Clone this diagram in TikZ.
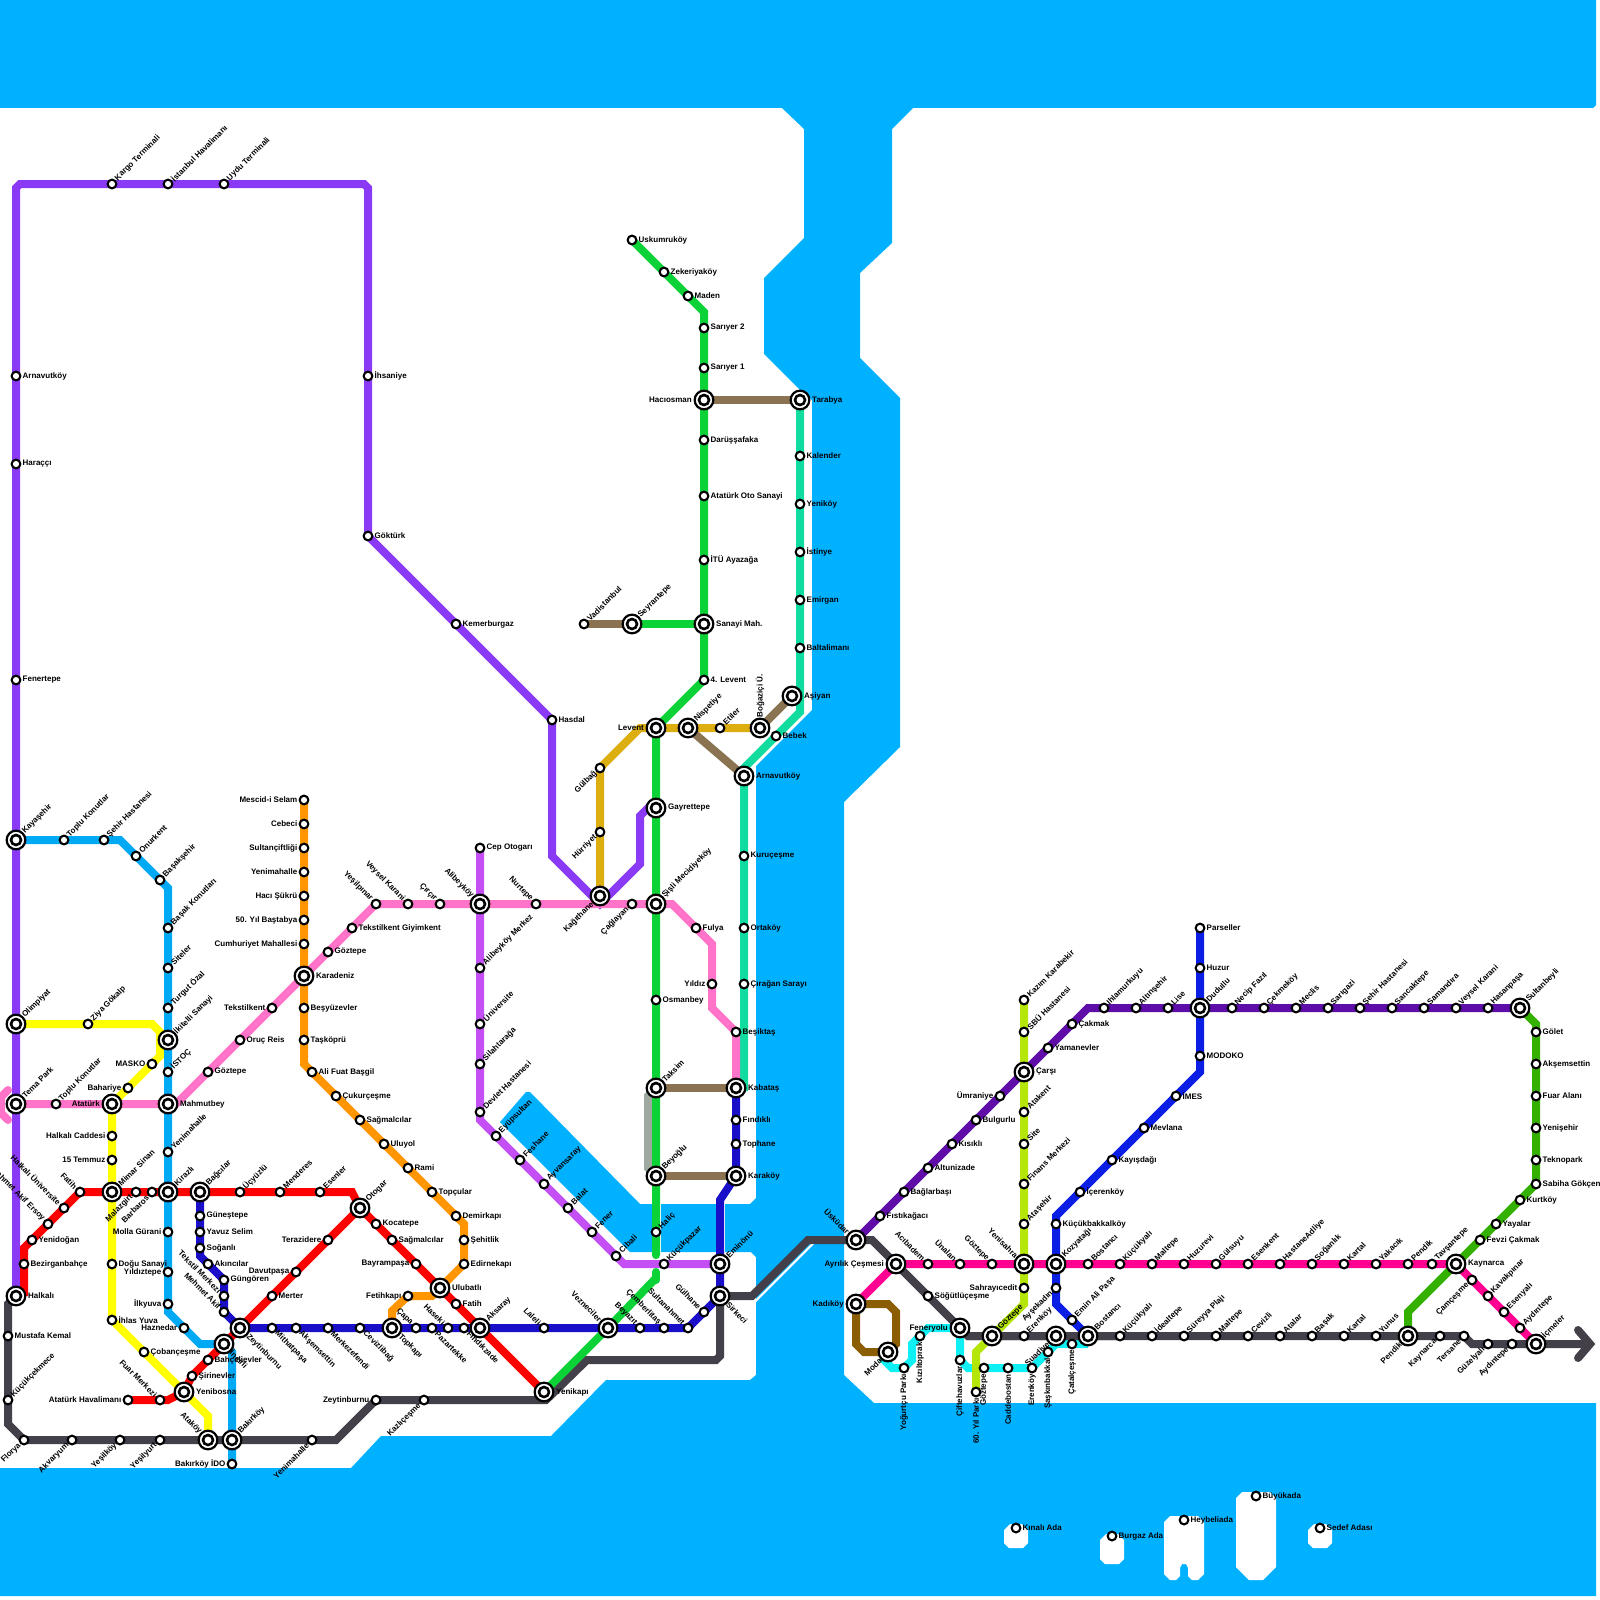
\documentclass[tikz,border=0pt]{standalone}
\usepackage{fontspec}
\setmainfont{Liberation Sans}
\pgfdeclarelayer{water}
\pgfdeclarelayer{lines}
\pgfsetlayers{water,lines,main}
\definecolor{cWater}{HTML}{00B1FF}
\definecolor{cRed}{HTML}{FF0000}
\definecolor{cYellow}{HTML}{FFFF00}
\definecolor{cPink}{HTML}{FF73C8}
\definecolor{cPurple}{HTML}{8A3AF5}
\definecolor{cSky}{HTML}{00A9F4}
\definecolor{cNavy}{HTML}{1A0FC8}
\definecolor{cOrange}{HTML}{FF9500}
\definecolor{cLilac}{HTML}{C450F5}
\definecolor{cGold}{HTML}{DCAE10}
\definecolor{cGreen}{HTML}{0BD236}
\definecolor{cTeal}{HTML}{10DCA0}
\definecolor{cTaupe}{HTML}{8A7350}
\definecolor{cAsh}{HTML}{A0A9A0}
\definecolor{cMarmaray}{HTML}{434049}
\definecolor{cViolet}{HTML}{5F0DA8}
\definecolor{cMagenta}{HTML}{FF0090}
\definecolor{cLime}{HTML}{B4E60A}
\definecolor{cBlue}{HTML}{0A1EE6}
\definecolor{cLeaf}{HTML}{33B000}
\definecolor{cBrown}{HTML}{8B5E05}
\definecolor{cCyan}{HTML}{0FF0F5}
\tikzset{
  stn/.style={circle,draw=black,fill=white,line width=2.1pt,minimum size=8.7pt,inner sep=0pt},
  hubo/.style={circle,draw=black,fill=white,line width=2.2pt,minimum size=18.7pt,inner sep=0pt},
  hubi/.style={circle,draw=black,fill=white,line width=2.6pt,minimum size=10pt,inner sep=0pt},
  lbl/.style={inner sep=0pt,text=black,font=\fontsize{8}{9}\selectfont\bfseries},
  lE/.style={anchor=west,xshift=\lsh pt,yshift=0pt},
  lW/.style={anchor=east,xshift=-\lsh pt,yshift=0pt},
  lNE/.style={rotate=45,anchor=west,xshift=\dsh pt},
  lSW/.style={rotate=45,anchor=east,xshift=-\dsh pt},
  lNW/.style={rotate=-45,anchor=east,xshift=-\dsh pt},
  lSE/.style={rotate=-45,anchor=west,xshift=\dsh pt},
  lS/.style={rotate=90,anchor=east,xshift=-\dsh pt},
  lN/.style={rotate=90,anchor=west,xshift=\dsh pt},
  ln/.style={line width=8pt,line join=miter,miter limit=4},
}
\newcommand\st[5]{\node[stn] (#1) at (#2,#3) {};\def\lsh{6.5}\def\dsh{6}\node[lbl,#4] (#1-t) at (#1) {#5};}
\newcommand\hb[5]{\node[hubo] (#1) at (#2,#3) {};\node[hubi] (#1-i) at (#1) {};\def\lsh{12}\def\dsh{10.5}\node[lbl,#4] (#1-t) at (#1) {#5};}
\begin{document}
\begin{tikzpicture}[x=1pt,y=-1pt]
\useasboundingbox (0,0) rectangle (1600,1600);
% ---------- water and islands
\begin{pgfonlayer}{water}
\fill[cWater] (0,0) -- (1596,0) -- (1596,105) -- (1593,108) -- (913,108) -- (892,129) -- (892,243) -- (860,273) -- (860,358) -- (900,398) -- (900,747) -- (844,802) -- (844,1375) -- (874,1403) -- (1596,1403) -- (1596,1596) -- (0,1596) -- (0,1468) -- (351,1468) -- (381,1436) -- (551,1436) -- (606,1380) -- (750,1380) -- (756,1375) -- (756,1257) -- (751,1252) -- (630,1252) -- (500,1122) -- (526,1092) -- (530,1092) -- (640,1204) -- (750,1204) -- (756,1198) -- (756,766) -- (812,710) -- (812,400) -- (800,390) -- (764,354) -- (764,278) -- (804,238) -- (804,129) -- (782,108) -- (0,108) -- cycle;
\fill[white] (651.5,1204) rectangle (661,1252);
\fill[white] (715.5,1204) rectangle (725,1252);
\fill[white] (755,1300) -- (811,1244) -- (814,1244) -- (756,1302) -- cycle;
\fill[white] (1004,1530) -- (1010,1524) -- (1022,1524) -- (1028,1530) -- (1028,1543) -- (1023,1548) -- (1009,1548) -- (1004,1543) -- cycle;
\fill[white] (1308,1530) -- (1314,1524) -- (1326,1524) -- (1332,1530) -- (1332,1543) -- (1327,1548) -- (1313,1548) -- (1308,1543) -- cycle;
\fill[white] (1100,1540) -- (1106,1534) -- (1118,1534) -- (1124,1540) -- (1124,1559) -- (1119,1564) -- (1105,1564) -- (1100,1559) -- cycle;
\fill[white] (1164,1522) -- (1170,1516) -- (1198,1516) -- (1204,1522) -- (1204,1574) -- (1198,1580) -- (1192,1580) -- (1188,1576) -- (1188,1568) -- (1186,1564) -- (1182,1564) -- (1180,1568) -- (1180,1576) -- (1176,1580) -- (1170,1580) -- (1164,1574) -- cycle;
\fill[white] (1236,1498) -- (1242,1492) -- (1270,1492) -- (1276,1498) -- (1276,1567) -- (1263,1580) -- (1249,1580) -- (1236,1567) -- cycle;
\end{pgfonlayer}
% ---------- stations: purple
\st{kargo}{112}{184}{lNE}{Kargo Terminali}
\st{ihava}{168}{184}{lNE}{İstanbul Havalimanı}
\st{uydu}{224}{184}{lNE}{Uydu Terminali}
\st{arnk}{16}{376}{lE}{Arnavutköy}
\st{harac}{16}{464}{lE}{Haraççı}
\st{fener}{16}{680}{lE}{Fenertepe}
\hb{kaya}{16}{840}{lNE}{Kayaşehir}
\hb{olimp}{16}{1024}{lNE}{Olimpiyat}
\hb{tema}{16}{1104}{lNE}{Tema Park}
\hb{halkali}{16}{1296}{lE}{Halkalı}
\st{ihsan}{368}{376}{lE}{İhsaniye}
\st{gokturk}{368}{536}{lE}{Göktürk}
\st{kemer}{456}{624}{lE}{Kemerburgaz}
\st{hasdal}{552}{720}{lE}{Hasdal}
% sky
\st{toplua}{64}{840}{lNE}{Toplu Konutlar}
\st{sehir}{104}{840}{lNE}{Şehir Hastanesi}
\st{onur}{136}{856}{lNE}{Onurkent}
\st{basak}{160}{880}{lNE}{Başakşehir}
\st{basakk}{168}{928}{lNE}{Başak Konutları}
\st{siteler}{168}{968}{lNE}{Siteler}
\st{turgut}{168}{1008}{lNE}{Turgut Özal}
\hb{ikitelli}{168}{1040}{lNE}{İkitelli Sanayi}
\st{istoc}{168}{1072}{lNE}{İSTOÇ}
\hb{mahmut}{168}{1104}{lE}{Mahmutbey}
\st{yenim}{168}{1152}{lNE}{Yenimahalle}
\hb{kirazli}{168}{1192}{lNE}{Kirazlı}
\st{molla}{168}{1232}{lW}{Molla Gürani}
\st{yildizt}{168}{1272}{lW}{Yıldıztepe}
\st{ilkyuva}{168}{1304}{lW}{İlkyuva}
\st{hazne}{184}{1328}{lW}{Haznedar}
\hb{incirli}{224}{1344}{lSE}{İncirli}
\hb{bakirkoy}{232}{1440}{lNE}{Bakırköy}
\st{ido}{232}{1464}{lW}{Bakırköy İDO}
% yellow
\st{ziya}{88}{1024}{lNE}{Ziya Gökalp}
\st{masko}{152}{1064}{lW}{MASKO}
\st{bahar}{128}{1088}{lW}{Bahariye}
\hb{ataturk}{112}{1104}{lW}{Atatürk}
\st{halkcad}{112}{1136}{lW}{Halkalı Caddesi}
\st{temmuz}{112}{1160}{lW}{15 Temmuz}
\hb{mimar}{112}{1192}{lNE}{Mimar Sinan}
\st{dogu}{112}{1264}{lE}{Doğu Sanayi}
\st{ihlas}{112}{1320}{lE}{İhlas Yuva}
\st{coban}{144}{1352}{lE}{Çobançeşme}
\hb{yenibosna}{184}{1392}{lE}{Yenibosna}
\hb{atakoy}{208}{1440}{lNW}{Ataköy}
% red
\st{fatiha}{80}{1192}{lNW}{Fatih}
\st{halkun}{64}{1208}{lNW}{Halkalı Üniversite}
\st{makif}{48}{1224}{lNW}{Mehmet Akif Ersoy}
\st{yenid}{32}{1240}{lE}{Yenidoğan}
\st{bezir}{24}{1264}{lE}{Bezirganbahçe}
\st{malaz}{136}{1192}{lSW}{Malazgirt}
\st{barbar}{152}{1192}{lSW}{Barbaros}
\hb{bagcilar}{200}{1192}{lNE}{Bağcılar}
\st{ucyuz}{240}{1192}{lNE}{Üçyüzlü}
\st{mender}{280}{1192}{lNE}{Menderes}
\st{esenler}{320}{1192}{lNE}{Esenler}
\hb{otogar}{360}{1208}{lNE}{Otogar}
\st{kocat}{376}{1224}{lE}{Kocatepe}
\st{sagma}{392}{1240}{lE}{Sağmalcılar}
\st{bayram}{416}{1264}{lW}{Bayrampaşa}
\hb{ulubatli}{440}{1288}{lE}{Ulubatlı}
\st{fatihb}{456}{1304}{lE}{Fatih}
\hb{aksaray}{480}{1328}{lNE}{Aksaray}
\hb{yenikapi}{544}{1392}{lE}{Yenikapı}
\st{terazi}{328}{1240}{lW}{Terazidere}
\st{davut}{296}{1272}{lW}{Davutpaşa}
\st{merter}{272}{1296}{lE}{Merter}
\hb{zeytin}{240}{1328}{lSE}{Zeytinburnu}
\st{bahce}{208}{1360}{lE}{Bahçelievler}
\st{sirin}{192}{1376}{lE}{Şirinevler}
\st{fuar}{160}{1400}{lNW}{Fuar Merkezi}
\st{athava}{128}{1400}{lW}{Atatürk Havalimanı}
% navy
\st{gunes}{200}{1216}{lE}{Güneştepe}
\st{yavuz}{200}{1232}{lE}{Yavuz Selim}
\st{sogan}{200}{1248}{lE}{Soğanlı}
\st{akinci}{208}{1264}{lE}{Akıncılar}
\st{gungor}{224}{1280}{lE}{Güngören}
\st{tekmer}{224}{1296}{lNW}{Tekstil Merkezi}
\st{mehak}{224}{1312}{lNW}{Mehmet Akif}
\st{mithat}{272}{1328}{lSE}{Mithatpaşa}
\st{aksem}{296}{1328}{lSE}{Akşemsettin}
\st{merkez}{328}{1328}{lSE}{Merkezefendi}
\st{ceviz}{360}{1328}{lSE}{Cevizlibağ}
\hb{topkapi}{392}{1328}{lSE}{Topkapı}
\st{capa}{416}{1328}{lNW}{Çapa}
\st{pazar}{432}{1328}{lSE}{Pazartekke}
\st{haseki}{448}{1328}{lNW}{Haseki}
\st{findik}{464}{1328}{lSE}{Fındıkzade}
\st{laleli}{544}{1328}{lNW}{Laleli}
\hb{vezne}{608}{1328}{lNW}{Vezneciler}
\st{beyazit}{640}{1328}{lNW}{Beyazıt}
\st{cember}{664}{1328}{lNW}{Çemberlitaş}
\st{sultana}{688}{1328}{lNW}{Sultanahmet}
\st{gulhane}{704}{1312}{lNW}{Gülhane}
\hb{sirkeci}{720}{1296}{lSE}{Sirkeci}
\hb{eminonu}{720}{1264}{lNE}{Eminönü}
\hb{karakoy}{736}{1176}{lE}{Karaköy}
\st{tophane}{736}{1144}{lE}{Tophane}
\st{findikli}{736}{1120}{lE}{Fındıklı}
\hb{kabatas}{736}{1088}{lE}{Kabataş}
% orange
\st{mescid}{304}{800}{lW}{Mescid-i Selam}
\st{cebeci}{304}{824}{lW}{Cebeci}
\st{sultanc}{304}{848}{lW}{Sultançiftliği}
\st{yenimb}{304}{872}{lW}{Yenimahalle}
\st{haci}{304}{896}{lW}{Hacı Şükrü}
\st{elli}{304}{920}{lW}{50. Yıl Baştabya}
\st{cumh}{304}{944}{lW}{Cumhuriyet Mahallesi}
\hb{karadeniz}{304}{976}{lE}{Karadeniz}
\st{besyuz}{304}{1008}{lE}{Beşyüzevler}
\st{taskop}{304}{1040}{lE}{Taşköprü}
\st{alifuat}{312}{1072}{lE}{Ali Fuat Başgil}
\st{cukur}{336}{1096}{lE}{Çukurçeşme}
\st{sagmb}{360}{1120}{lE}{Sağmalcılar}
\st{uluyol}{384}{1144}{lE}{Uluyol}
\st{rami}{408}{1168}{lE}{Rami}
\st{topcu}{432}{1192}{lE}{Topçular}
\st{demir}{456}{1216}{lE}{Demirkapı}
\st{sehit}{464}{1240}{lE}{Şehitlik}
\st{edirne}{464}{1264}{lE}{Edirnekapı}
\st{fetih}{408}{1296}{lW}{Fetihkapı}
% pink
\st{toplub}{56}{1104}{lNE}{Toplu Konutlar}
\st{gozta}{208}{1072}{lE}{Göztepe}
\st{oruc}{240}{1040}{lE}{Oruç Reis}
\st{tekst}{272}{1008}{lW}{Tekstilkent}
\st{goztb}{328}{952}{lE}{Göztepe}
\st{giyim}{352}{928}{lE}{Tekstilkent Giyimkent}
\st{yesilp}{376}{904}{lNW}{Yeşilpınar}
\st{veysa}{408}{904}{lNW}{Veysel Karani}
\st{circir}{440}{904}{lNW}{Çırçır}
\hb{alibey}{480}{904}{lNW}{Alibeyköy}
\st{nurtepe}{536}{904}{lNW}{Nurtepe}
\hb{kagit}{600}{896}{lSW}{Kağıthane}
\st{cagla}{632}{904}{lSW}{Çağlayan}
\hb{sisli}{656}{904}{lNE}{Şişli Mecidiyeköy}
\st{fulya}{696}{928}{lE}{Fulya}
\st{yildiz}{712}{984}{lW}{Yıldız}
\st{besik}{736}{1032}{lE}{Beşiktaş}
% lilac
\st{cepoto}{480}{848}{lE}{Cep Otogarı}
\st{alimer}{480}{968}{lNE}{Alibeyköy Merkez}
\st{univ}{480}{1024}{lNE}{Üniversite}
\st{silah}{480}{1064}{lNE}{Silahtarağa}
\st{devlet}{480}{1112}{lNE}{Devlet Hastanesi}
\st{eyup}{496}{1136}{lNE}{Eyüpsultan}
\st{feshane}{520}{1160}{lNE}{Feshane}
\st{ayvan}{544}{1184}{lNE}{Ayvansaray}
\st{balat}{568}{1208}{lNE}{Balat}
\st{fenerh}{592}{1232}{lNE}{Fener}
\st{cibali}{616}{1256}{lNE}{Cibali}
\st{kucukp}{664}{1264}{lNE}{Küçükpazar}
% green
\st{uskum}{632}{240}{lE}{Uskumruköy}
\st{zekeri}{664}{272}{lE}{Zekeriyaköy}
\st{maden}{688}{296}{lE}{Maden}
\st{sariya}{704}{328}{lE}{Sarıyer 2}
\st{sariyb}{704}{368}{lE}{Sarıyer 1}
\hb{hacios}{704}{400}{lW}{Hacıosman}
\st{darus}{704}{440}{lE}{Darüşşafaka}
\st{atoto}{704}{496}{lE}{Atatürk Oto Sanayi}
\st{itu}{704}{560}{lE}{İTÜ Ayazağa}
\hb{sanayi}{704}{624}{lE}{Sanayi Mah.}
\st{lev4}{704}{680}{lE}{4. Levent}
\hb{levent}{656}{728}{lW}{Levent}
\hb{gayret}{656}{808}{lE}{Gayrettepe}
\st{osman}{656}{1000}{lE}{Osmanbey}
\hb{taksim}{656}{1088}{lNE}{Taksim}
\hb{beyoglu}{656}{1176}{lNE}{Beyoğlu}
\st{halic}{656}{1232}{lNE}{Haliç}
\hb{seyran}{632}{624}{lNE}{Seyrantepe}
\st{vadi}{584}{624}{lNE}{Vadistanbul}
% gold, teal
\st{gulbag}{600}{768}{lSW}{Gülbağ}
\st{hurriy}{600}{832}{lSW}{Hürriyet}
\hb{nispet}{688}{728}{lNE}{Nispetiye}
\st{etiler}{720}{728}{lNE}{Etiler}
\hb{bogazi}{760}{728}{lN}{Boğaziçi Ü.}
\hb{asiyan}{792}{696}{lE}{Aşiyan}
\st{bebek}{776}{736}{lE}{Bebek}
\hb{arnav}{744}{776}{lE}{Arnavutköy}
\hb{tarabya}{800}{400}{lE}{Tarabya}
\st{kalender}{800}{456}{lE}{Kalender}
\st{yenikoy}{800}{504}{lE}{Yeniköy}
\st{istinye}{800}{552}{lE}{İstinye}
\st{emirgan}{800}{600}{lE}{Emirgan}
\st{baltal}{800}{648}{lE}{Baltalimanı}
\st{kuruc}{744}{856}{lE}{Kuruçeşme}
\st{ortak}{744}{928}{lE}{Ortaköy}
\st{ciragan}{744}{984}{lE}{Çırağan Sarayı}
% marmaray west
\st{mustafa}{8}{1336}{lE}{Mustafa Kemal}
\st{kcekm}{8}{1400}{lNE}{Küçükçekmece}
\st{florya}{24}{1440}{lSW}{Florya}
\st{akvar}{72}{1440}{lSW}{Akvaryum}
\st{yesilk}{120}{1440}{lSW}{Yeşilköy}
\st{yesily}{160}{1440}{lSW}{Yeşilyurt}
\st{yenimc}{312}{1440}{lSW}{Yenimahalle}
\st{zeytm}{376}{1400}{lW}{Zeytinburnu}
\st{kazli}{424}{1400}{lSW}{Kazlıçeşme}
% anatolia
\hb{uskudar}{856}{1240}{lNW}{Üsküdar}
\hb{ayrilik}{896}{1264}{lW}{Ayrılık Çeşmesi}
\hb{kadikoy}{856}{1304}{lW}{Kadıköy}
\hb{modah}{888}{1352}{lSW}{Moda}
\st{sogut}{928}{1296}{lE}{Söğütlüçeşme}
\hb{fenery}{960}{1328}{lW}{Feneryolu}
\st{kizil}{920}{1336}{lS}{Kızıltoprak}
\st{yogurt}{904}{1368}{lS}{Yoğurtçu Parkı}
\hb{goztm}{992}{1336}{lNE}{Göztepe}
\st{erena}{1024}{1336}{lNE}{Erenköy}
\hb{suadiye}{1056}{1336}{lSW}{Suadiye}
\hb{bostm}{1088}{1336}{lNE}{Bostancı}
\st{kucm}{1120}{1336}{lNE}{Küçükyalı}
\st{ideal}{1152}{1336}{lNE}{İdealtepe}
\st{sureyya}{1184}{1336}{lNE}{Süreyya Plajı}
\st{maltm}{1216}{1336}{lNE}{Maltepe}
\st{cevizli}{1248}{1336}{lNE}{Cevizli}
\st{atalar}{1280}{1336}{lNE}{Atalar}
\st{basakm}{1312}{1336}{lNE}{Başak}
\st{kartm}{1344}{1336}{lNE}{Kartal}
\st{yunus}{1376}{1336}{lNE}{Yunus}
\hb{pendm}{1408}{1336}{lSW}{Pendik}
\st{kaynm}{1440}{1336}{lSW}{Kaynarca}
\st{tersane}{1464}{1336}{lSW}{Tersane}
\st{guzel}{1488}{1344}{lSW}{Güzelyalı}
\st{aydm}{1512}{1344}{lSW}{Aydıntepe}
\hb{icmeler}{1536}{1344}{lNE}{İçmeler}
\st{cifte}{960}{1360}{lS}{Çiftehavuzlar}
\st{goztc}{984}{1368}{lS}{Göztepe}
\st{yilpark}{976}{1392}{lS}{60. Yıl Parkı}
\st{cadde}{1008}{1368}{lS}{Caddebostan}
\st{erenc}{1032}{1368}{lS}{Erenköy}
\st{saskin}{1048}{1352}{lS}{Şaşkınbakkal}
\st{catal}{1072}{1344}{lS}{Çatalçeşme}
\st{fistik}{880}{1216}{lE}{Fıstıkağacı}
\st{baglar}{904}{1192}{lE}{Bağlarbaşı}
\st{altuni}{928}{1168}{lE}{Altunizade}
\st{kisikli}{952}{1144}{lE}{Kısıklı}
\st{bulgur}{976}{1120}{lE}{Bulgurlu}
\st{umran}{1000}{1096}{lW}{Ümraniye}
\hb{carsi}{1024}{1072}{lE}{Çarşı}
\st{yamane}{1048}{1048}{lE}{Yamanevler}
\st{cakmak}{1072}{1024}{lE}{Çakmak}
\st{ihlam}{1104}{1008}{lNE}{Ihlamurkuyu}
\st{altins}{1136}{1008}{lNE}{Altınşehir}
\st{lise}{1168}{1008}{lNE}{Lise}
\hb{dudullu}{1200}{1008}{lNE}{Dudullu}
\st{necip}{1232}{1008}{lNE}{Necip Fazıl}
\st{cekme}{1264}{1008}{lNE}{Çekmeköy}
\st{meclis}{1296}{1008}{lNE}{Meclis}
\st{sarig}{1328}{1008}{lNE}{Sarıgazi}
\st{sehirb}{1360}{1008}{lNE}{Şehir Hastanesi}
\st{sancak}{1392}{1008}{lNE}{Sancaktepe}
\st{samand}{1424}{1008}{lNE}{Samandıra}
\st{veysb}{1456}{1008}{lNE}{Veysel Karani}
\st{hasanp}{1488}{1008}{lNE}{Hasanpaşa}
\hb{sultanb}{1520}{1008}{lNE}{Sultanbeyli}
\st{golet}{1536}{1032}{lE}{Gölet}
\st{aksemb}{1536}{1064}{lE}{Akşemsettin}
\st{fuaral}{1536}{1096}{lE}{Fuar Alanı}
\st{yenish}{1536}{1128}{lE}{Yenişehir}
\st{tekno}{1536}{1160}{lE}{Teknopark}
\st{sabiha}{1536}{1184}{lE}{Sabiha Gökçen}
\st{kurtkoy}{1520}{1200}{lE}{Kurtköy}
\st{yayalar}{1496}{1224}{lE}{Yayalar}
\st{fevzi}{1480}{1240}{lE}{Fevzi Çakmak}
\hb{kaynarca}{1456}{1264}{lE}{Kaynarca}
\st{parsel}{1200}{928}{lE}{Parseller}
\st{huzur}{1200}{968}{lE}{Huzur}
\st{modoko}{1200}{1056}{lE}{MODOKO}
\st{imes}{1176}{1096}{lE}{İMES}
\st{mevlana}{1144}{1128}{lE}{Mevlana}
\st{kayis}{1112}{1160}{lE}{Kayışdağı}
\st{iceren}{1080}{1192}{lE}{İçerenköy}
\st{kbakkal}{1056}{1224}{lE}{Küçükbakkalköy}
\hb{kozya}{1056}{1264}{lNE}{Kozyatağı}
\st{ayse}{1056}{1288}{lSW}{Ayşekadın}
\st{eminali}{1072}{1320}{lNE}{Emin Ali Paşa}
\st{kazim}{1024}{1000}{lNE}{Kazım Karabekir}
\st{sbu}{1024}{1032}{lNE}{SBÜ Hastanesi}
\st{atakent}{1024}{1112}{lNE}{Atakent}
\st{site}{1024}{1144}{lNE}{Site}
\st{finans}{1024}{1184}{lNE}{Finans Merkezi}
\st{atasehir}{1024}{1224}{lNE}{Ataşehir}
\hb{yenisah}{1024}{1264}{lNW}{Yenisahra}
\st{sahray}{1024}{1288}{lW}{Sahrayıcedit}
\st{acibad}{928}{1264}{lNW}{Acıbadem}
\st{unalan}{960}{1264}{lNW}{Ünalan}
\st{goztp}{992}{1264}{lNW}{Göztepe}
\st{bostp}{1088}{1264}{lNE}{Bostancı}
\st{kucp}{1120}{1264}{lNE}{Küçükyalı}
\st{maltp}{1152}{1264}{lNE}{Maltepe}
\st{huzure}{1184}{1264}{lNE}{Huzurevi}
\st{gulsuyu}{1216}{1264}{lNE}{Gülsuyu}
\st{esenk}{1248}{1264}{lNE}{Esenkent}
\st{hastad}{1280}{1264}{lNE}{HastaneAdliye}
\st{soganl}{1312}{1264}{lNE}{Soğanlık}
\st{kartp}{1344}{1264}{lNE}{Kartal}
\st{yakacik}{1376}{1264}{lNE}{Yakacık}
\st{pendp}{1408}{1264}{lNE}{Pendik}
\st{tavsan}{1432}{1264}{lNE}{Tavşantepe}
\st{camces}{1472}{1280}{lSW}{Çamçeşme}
\st{kavak}{1488}{1296}{lNE}{Kavakpınar}
\st{esenya}{1504}{1312}{lNE}{Esenyalı}
\st{aydp}{1520}{1328}{lNE}{Aydıntepe}
% islands
\st{kinali}{1016}{1528}{lE}{Kınalı Ada}
\st{burgaz}{1112}{1536}{lE}{Burgaz Ada}
\st{heybeli}{1184}{1520}{lE}{Heybeliada}
\st{buyuk}{1256}{1496}{lE}{Büyükada}
\st{sedef}{1320}{1528}{lE}{Sedef Adası}
\coordinate (arrowtip) at (1590,1344);
% ---------- lines
\begin{pgfonlayer}{lines}
\draw[ln,cMarmaray] (halkali.center) -- (8,1304) -- (mustafa.center) -- (kcekm.center) -- (8,1424) -- (florya.center) -- (akvar.center) -- (yesilk.center) -- (yesily.center) -- (atakoy.center) -- (bakirkoy.center) -- (yenimc.center) -- (336,1440) -- (zeytm.center) -- (kazli.center) -- (546,1400) -- (587,1360) -- (716,1360) -- (720,1356) -- (sirkeci.center) -- (752,1296) -- (808,1240) -- (uskudar.center) -- (872,1240) -- (ayrilik.center) -- (sogut.center) -- (fenery.center) -- (968,1336) -- (goztm.center) -- (erena.center) -- (suadiye.center) -- (bostm.center) -- (kucm.center) -- (ideal.center) -- (sureyya.center) -- (maltm.center) -- (cevizli.center) -- (atalar.center) -- (basakm.center) -- (kartm.center) -- (yunus.center) -- (pendm.center) -- (kaynm.center) -- (tersane.center) -- (1472,1344) -- (guzel.center) -- (aydm.center) -- (icmeler.center) -- (arrowtip);
\draw[ln,cMarmaray,line cap=round] (1578,1330) -- (arrowtip) -- (1578,1358);
\draw[ln,cCyan] (modah.center) -- (884,1360) -- (892,1368) -- (yogurt.center) -- (912,1360) -- (912,1344) -- (kizil.center) -- (928,1328) -- (fenery.center) -- (cifte.center) -- (968,1368) -- (goztc.center) -- (cadde.center) -- (erenc.center) -- (saskin.center) -- (1056,1344) -- (catal.center) -- (1088,1344);
\draw[ln,cMarmaray] (fenery.center) -- (968,1336) -- (goztm.center) -- (erena.center) -- (suadiye.center) -- (bostm.center) -- (kucm.center);
\draw[ln,cTeal] (tarabya.center) -- (kalender.center) -- (yenikoy.center) -- (istinye.center) -- (emirgan.center) -- (baltal.center) -- (800,712) -- (bebek.center) -- (744,768) -- (arnav.center) -- (kuruc.center) -- (ortak.center) -- (ciragan.center) -- (744,1091);
\draw[ln,cAsh] (taksim.center) -- (648,1096) -- (648,1168) -- (beyoglu.center);
\draw[ln,cPurple] (halkali.center) -- (tema.center) -- (olimp.center) -- (kaya.center) -- (fener.center) -- (harac.center) -- (arnk.center) -- (16,188) -- (20,184) -- (kargo.center) -- (ihava.center) -- (uydu.center) -- (364,184) -- (368,188) -- (ihsan.center) -- (gokturk.center) -- (kemer.center) -- (hasdal.center) -- (552,856) -- (600,904) -- (640,864) -- (640,816) -- (648,808) -- (gayret.center);
\draw[ln,cGold] (kagit.center) -- (hurriy.center) -- (gulbag.center) -- (640,728) -- (levent.center) -- (nispet.center) -- (etiler.center) -- (bogazi.center);
\draw[ln,cTaupe] (nispet.center) -- (arnav.center);
\draw[ln,cTaupe] (bogazi.center) -- (asiyan.center);
\draw[ln,cTaupe] (hacios.center) -- (tarabya.center);
\draw[ln,cTaupe] (vadi.center) -- (seyran.center);
\draw[ln,cTaupe] (taksim.center) -- (kabatas.center);
\draw[ln,cTaupe] (beyoglu.center) -- (karakoy.center);
\draw[ln,cYellow] (olimp.center) -- (ziya.center) -- (152,1024) -- (160,1032) -- (160,1056) -- (masko.center) -- (bahar.center) -- (ataturk.center) -- (halkcad.center) -- (temmuz.center) -- (mimar.center) -- (dogu.center) -- (ihlas.center) -- (coban.center) -- (yenibosna.center) -- (208,1416) -- (atakoy.center);
\draw[ln,cSky] (kaya.center) -- (toplua.center) -- (sehir.center) -- (120,840) -- (onur.center) -- (basak.center) -- (168,888) -- (basakk.center) -- (siteler.center) -- (turgut.center) -- (ikitelli.center) -- (istoc.center) -- (mahmut.center) -- (yenim.center) -- (kirazli.center) -- (molla.center) -- (yildizt.center) -- (ilkyuva.center) -- (168,1312) -- (hazne.center) -- (200,1344) -- (incirli.center);
\draw[ln,cSky] (incirli.center) -- (232,1352) -- (bakirkoy.center) -- (ido.center);
\draw[ln,cOrange] (mescid.center) -- (cebeci.center) -- (sultanc.center) -- (yenimb.center) -- (haci.center) -- (elli.center) -- (cumh.center) -- (karadeniz.center) -- (besyuz.center) -- (taskop.center) -- (304,1064) -- (alifuat.center) -- (cukur.center) -- (sagmb.center) -- (uluyol.center) -- (rami.center) -- (topcu.center) -- (demir.center) -- (464,1224) -- (sehit.center) -- (edirne.center) -- (ulubatli.center) -- (432,1296) -- (fetih.center) -- (392,1311) -- (topkapi.center);
\draw[ln,cPink,line cap=round] (8,1090) -- (1,1097) -- (1,1113) -- (8,1120);
\draw[ln,cPink] (tema.center) -- (toplub.center) -- (ataturk.center) -- (mahmut.center) -- (176,1104) -- (gozta.center) -- (oruc.center) -- (tekst.center) -- (karadeniz.center) -- (goztb.center) -- (giyim.center) -- (yesilp.center) -- (veysa.center) -- (circir.center) -- (alibey.center) -- (nurtepe.center) -- (cagla.center) -- (sisli.center) -- (672,904) -- (fulya.center) -- (712,944) -- (yildiz.center) -- (712,1008) -- (besik.center) -- (kabatas.center);
\draw[ln,cLilac] (cepoto.center) -- (alibey.center) -- (alimer.center) -- (univ.center) -- (silah.center) -- (devlet.center) -- (480,1120) -- (eyup.center) -- (feshane.center) -- (ayvan.center) -- (balat.center) -- (fenerh.center) -- (cibali.center) -- (624,1264) -- (kucukp.center) -- (eminonu.center);
\draw[ln,cGreen] (uskum.center) -- (zekeri.center) -- (maden.center) -- (704,312) -- (sariya.center) -- (sariyb.center) -- (hacios.center) -- (darus.center) -- (atoto.center) -- (itu.center) -- (sanayi.center) -- (lev4.center) -- (levent.center) -- (gayret.center) -- (sisli.center) -- (osman.center) -- (taksim.center) -- (beyoglu.center) -- (halic.center) -- (656,1255);
\draw[ln,cGreen,line cap=round] (656,1255) -- (656,1255.1);
\draw[ln,cGreen,line cap=round] (656,1272) -- (656,1280);
\draw[ln,cGreen] (656,1278) -- (vezne.center) -- (yenikapi.center);
\draw[ln,cGreen] (seyran.center) -- (sanayi.center);
\draw[ln,cRed] (24,1296) -- (bezir.center) -- (24,1248) -- (yenid.center) -- (makif.center) -- (halkun.center) -- (fatiha.center) -- (mimar.center) -- (malaz.center) -- (barbar.center) -- (kirazli.center) -- (bagcilar.center) -- (ucyuz.center) -- (mender.center) -- (esenler.center) -- (352,1192) -- (otogar.center) -- (kocat.center) -- (sagma.center) -- (bayram.center) -- (ulubatli.center) -- (fatihb.center) -- (aksaray.center) -- (yenikapi.center);
\draw[ln,cRed] (otogar.center) -- (terazi.center) -- (davut.center) -- (merter.center) -- (zeytin.center) -- (incirli.center) -- (bahce.center) -- (sirin.center) -- (yenibosna.center) -- (168,1400) -- (fuar.center) -- (athava.center);
\draw[ln,cNavy] (bagcilar.center) -- (gunes.center) -- (yavuz.center) -- (sogan.center) -- (200,1256) -- (akinci.center) -- (gungor.center) -- (tekmer.center) -- (mehak.center) -- (224,1312) -- (zeytin.center) -- (mithat.center) -- (aksem.center) -- (merkez.center) -- (ceviz.center) -- (topkapi.center) -- (capa.center) -- (pazar.center) -- (haseki.center) -- (findik.center) -- (aksaray.center) -- (laleli.center) -- (vezne.center) -- (beyazit.center) -- (cember.center) -- (sultana.center) -- (gulhane.center) -- (sirkeci.center) -- (eminonu.center) -- (720,1200) -- (karakoy.center) -- (tophane.center) -- (findikli.center) -- (kabatas.center);
\draw[ln,cBrown] (kadikoy.center) -- (888,1304) -- (896,1312) -- (896,1344) -- (modah.center);
\draw[ln,cBrown] (kadikoy.center) -- (856,1344) -- (864,1352) -- (modah.center);
\draw[ln,cLime] (kazim.center) -- (sbu.center) -- (carsi.center) -- (atakent.center) -- (site.center) -- (finans.center) -- (atasehir.center) -- (yenisah.center) -- (sahray.center) -- (1024,1304) -- (goztm.center) -- (976,1352) -- (yilpark.center);
\draw[ln,cViolet] (uskudar.center) -- (fistik.center) -- (baglar.center) -- (altuni.center) -- (kisikli.center) -- (bulgur.center) -- (umran.center) -- (carsi.center) -- (yamane.center) -- (cakmak.center) -- (1088,1008) -- (ihlam.center) -- (altins.center) -- (lise.center) -- (dudullu.center) -- (necip.center) -- (cekme.center) -- (meclis.center) -- (sarig.center) -- (sehirb.center) -- (sancak.center) -- (samand.center) -- (veysb.center) -- (hasanp.center) -- (sultanb.center);
\draw[ln,cBlue] (parsel.center) -- (huzur.center) -- (dudullu.center) -- (modoko.center) -- (1200,1072) -- (imes.center) -- (mevlana.center) -- (kayis.center) -- (iceren.center) -- (1056,1216) -- (kbakkal.center) -- (kozya.center) -- (ayse.center) -- (1056,1304) -- (eminali.center) -- (bostm.center);
\draw[ln,cLeaf] (sultanb.center) -- (1536,1024) -- (golet.center) -- (aksemb.center) -- (fuaral.center) -- (yenish.center) -- (tekno.center) -- (sabiha.center) -- (kurtkoy.center) -- (yayalar.center) -- (fevzi.center) -- (kaynarca.center) -- (1408,1312) -- (pendm.center);
\draw[ln,cMagenta] (kadikoy.center) -- (ayrilik.center) -- (acibad.center) -- (unalan.center) -- (goztp.center) -- (yenisah.center) -- (kozya.center) -- (bostp.center) -- (kucp.center) -- (maltp.center) -- (huzure.center) -- (gulsuyu.center) -- (esenk.center) -- (hastad.center) -- (soganl.center) -- (kartp.center) -- (yakacik.center) -- (pendp.center) -- (tavsan.center) -- (kaynarca.center) -- (camces.center) -- (kavak.center) -- (esenya.center) -- (aydp.center) -- (icmeler.center);
\end{pgfonlayer}
\end{tikzpicture}
\end{document}
